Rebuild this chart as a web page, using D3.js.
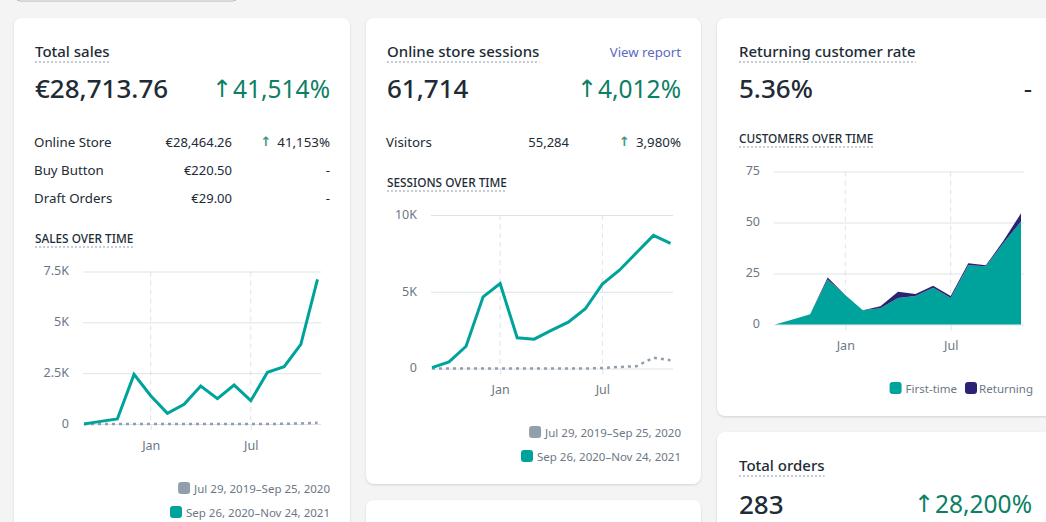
<!DOCTYPE html>
<html>
<head>
<meta charset="utf-8">
<script src="https://cdn.jsdelivr.net/npm/d3@7"></script>
<style>
  html, body { margin: 0; padding: 0; background: #f4f4f5; overflow: hidden; }
  svg { display: block; font-family: "Noto Sans", sans-serif; }
  .card { fill: #fff; filter: drop-shadow(0 1px 1px rgba(60,60,70,.18)); }
  .axis path.domain { display: none; }
  .axis text { font-size: 12.5px; fill: #6b7785; font-family: "Noto Sans", sans-serif; }
  .grid line { stroke: #dfe3e8; stroke-width: 1; }
  .vgrid line { stroke: #dfe3e8; stroke-width: 1; stroke-dasharray: 5 4; }
  .dots { stroke: #c4cdd5; stroke-width: 2; stroke-dasharray: 2 2; }
</style>
</head>
<body>
<svg id="page" width="1046" height="522"></svg>
<script>
// donnees
const months = ["Sep 2020", "Oct 2020", "Nov 2020", "Dec 2020", "Jan 2021", "Feb 2021", "Mar 2021", "Apr 2021",
  "May 2021", "Jun 2021", "Jul 2021", "Aug 2021", "Sep 2021", "Oct 2021", "Nov 2021"];
const monthTicks = ["Jan 2021", "Jul 2021"];

const salesCurrent = [0, 130, 250, 2440, 1390, 525, 965, 1870, 1245, 1915, 1145, 2540, 2820, 3915, 7110];
const salesPrevious = [0, 0, 0, 0, 0, 0, 0, 0, 0, 0, 0, 0, 10, 25, 60];
const salesTicks = [0, 2500, 5000, 7500];
const salesTickLabels = ["0", "2.5K", "5K", "7.5K"];

const sessionsCurrent = [60, 430, 1450, 4670, 5540, 2000, 1910, 2480, 3020, 3890, 5500, 6400, 7540, 8670, 8150];
const sessionsPrevious = [0, 0, 0, 0, 0, 0, 0, 0, 0, 0, 30, 100, 150, 700, 540];
const sessionsTicks = [0, 5000, 10000];
const sessionsTickLabels = ["0", "5K", "10K"];

const firstTime = [0, 2.5, 5, 22, 14.5, 7, 8, 13, 14, 18, 13, 29, 28.5, 40, 50.5];
const returning = [0, 0, 0, 1, 0, 0, 1, 3, 1, 1, 1, 1, 0.5, 1, 4];
const customerTicks = [0, 25, 50, 75];

const periodLabels = ["Jul 29, 2019–Sep 25, 2020", "Sep 26, 2020–Nov 24, 2021"];
const customerLabels = ["First-time", "Returning"];
const salesRows = [["Online Store", "€28,464.26", "41,153%"], ["Buy Button", "€220.50", "-"], ["Draft Orders", "€29.00", "-"]];

const teal = "#00a39c", navy = "#2c2274", grey = "#919eab", ink = "#212b36", green = "#0c7f64";
const svg = d3.select("#page");

// cartes
svg.append("rect").attr("x", 16).attr("y", -30).attr("width", 221).attr("height", 31).attr("rx", 4)
  .attr("fill", "#fff").attr("stroke", "#b5b5b5");
[[14, 18, 336, 560], [366, 18, 335, 466], [717, 18, 400, 398], [717, 432, 400, 140], [366, 500, 335, 60]].forEach(function(c) {
  svg.append("rect").attr("class", "card").attr("x", c[0]).attr("y", c[1]).attr("width", c[2]).attr("height", c[3]).attr("rx", 8);
});

function label(x, y, txt, size, weight, color, anchor) {
  return svg.append("text").attr("x", x).attr("y", y).text(txt)
    .attr("font-size", size).attr("font-weight", weight || 400)
    .attr("fill", color || ink).attr("text-anchor", anchor || "start");
}

// titre souligne en pointilles
function dotted(x, y, gap, txt, size, weight) {
  const t = label(x, y, txt, size, weight);
  const w = t.node().getComputedTextLength();
  svg.append("line").attr("class", "dots").attr("x1", x).attr("x2", x + w).attr("y1", y + gap).attr("y2", y + gap);
}

function trend(right, y, txt, size) {
  const t = label(right, y, txt, size, 400, size > 20 ? green : ink, "end");
  const w = t.node().getComputedTextLength();
  if (size > 20) {
    label(right - w - 1, y - 1, "↑", 24, 400, green, "end").style("font-family", "DejaVu Sans");
  } else {
    label(right - w - 6, y - 1, "↑", 13, 700, "#3c9a80", "end").style("font-family", "DejaVu Sans");
  }
}

function legendRows(right, rows) {
  rows.forEach(function(r) {
    const t = label(right, r.y, r.text, 11.5, 400, "#6b7785", "end");
    const w = t.node().getComputedTextLength();
    svg.append("rect").attr("x", right - w - 16).attr("y", r.y - 11).attr("width", 12).attr("height", 12).attr("rx", 3).attr("fill", r.color);
  });
}

// axes et grille communs aux trois graphiques
function frame(box, yMax, ticks, tickLabels) {
  const x = d3.scalePoint().domain(months).range([box.left, box.right]);
  const y = d3.scaleLinear().domain([0, yMax]).range([box.bottom, box.top]);

  svg.append("g").attr("class", "vgrid").selectAll("line").data(monthTicks).join("line")
    .attr("x1", d => x(d)).attr("x2", d => x(d)).attr("y1", box.top).attr("y2", box.bottom);

  const left = svg.append("g").attr("class", "axis grid")
    .attr("transform", "translate(" + (box.left - 1) + ",0)")
    .call(d3.axisLeft(y).tickValues(ticks).tickSize(-(box.gridEnd - box.left + 1)).tickPadding(14)
      .tickFormat((d, i) => tickLabels[i]));
  left.selectAll("text").attr("dy", "0.27em");

  const bottom = svg.append("g").attr("class", "axis grid")
    .attr("transform", "translate(0," + box.bottom + ")")
    .call(d3.axisBottom(x).tickValues(monthTicks).tickSize(6).tickPadding(11).tickFormat(d => d.slice(0, 3)));
  return { x, y };
}

function drawLines(s, prev, cur) {
  const line = d3.line().x((d, i) => s.x(months[i])).y(d => s.y(d));
  svg.append("path").datum(prev).attr("d", line).attr("fill", "none").attr("stroke", grey)
    .attr("stroke-width", 2.5).attr("stroke-dasharray", "3 4");
  svg.append("path").datum(cur).attr("d", line).attr("fill", "none").attr("stroke", teal)
    .attr("stroke-width", 3).attr("stroke-linejoin", "miter");
}

// Total sales
dotted(35, 57, 5, "Total sales", 15, 500);
label(35, 98, "€28,713.76", 26, 500);
trend(330, 98, "41,514%", 24.5);
salesRows.forEach(function(r, i) {
  const y = 147 + i * 28;
  label(34, y, r[0], 13.3);
  label(232, y, r[1], 13, 400, ink, "end");
  if (r[2] === "-") label(330, y, "-", 13.3, 400, ink, "end");
  else trend(330, y, r[2], 13.3);
});
dotted(35, 243, 4, "SALES OVER TIME", 11.8, 500);
const salesFrame = frame({ left: 84, right: 317.5, gridEnd: 321, top: 271.5, bottom: 424 }, 7500, salesTicks, salesTickLabels);
drawLines(salesFrame, salesPrevious, salesCurrent);
legendRows(330, [{ y: 493, text: periodLabels[0], color: grey }, { y: 517, text: periodLabels[1], color: teal }]);

// Online store sessions
dotted(387, 57, 5, "Online store sessions", 15, 500);
label(681, 57, "View report", 13.2, 400, "#5c6ac4", "end");
label(387, 98, "61,714", 26, 500);
trend(681, 98, "4,012%", 24.5);
label(386, 147, "Visitors", 13.3);
label(569, 147, "55,284", 13, 400, ink, "end");
trend(681, 147, "3,980%", 13.3);
dotted(387, 187, 4, "SESSIONS OVER TIME", 11.8, 500);
const sessionsFrame = frame({ left: 432, right: 670.5, gridEnd: 673, top: 215, bottom: 368.5 }, 10000, sessionsTicks, sessionsTickLabels);
drawLines(sessionsFrame, sessionsPrevious, sessionsCurrent);
legendRows(681, [{ y: 437, text: periodLabels[0], color: grey }, { y: 461, text: periodLabels[1], color: teal }]);

// Returning customer rate
dotted(739, 57, 5, "Returning customer rate", 15, 500);
label(739, 98, "5.36%", 26, 500);
label(1032, 98, "-", 26, 400, ink, "end");
dotted(739, 143, 4, "CUSTOMERS OVER TIME", 11.8, 500);
const custFrame = frame({ left: 775, right: 1021, gridEnd: 1024, top: 171.5, bottom: 324.5 }, 75, customerTicks, customerTicks);
const stacked = d3.stack().keys([0, 1]).value((d, k) => d[k])(months.map((m, i) => [firstTime[i], returning[i]]));
const area = d3.area().x((d, i) => custFrame.x(months[i])).y0(d => custFrame.y(d[0])).y1(d => custFrame.y(d[1]));
svg.append("g").selectAll("path").data(stacked).join("path").attr("d", area).attr("fill", (d, i) => [teal, navy][i]);
label(1033, 393, customerLabels[1], 11.5, 400, "#6b7785", "end");
legendRows(957, [{ y: 393, text: customerLabels[0], color: teal }]);
svg.append("rect").attr("x", 965).attr("y", 382).attr("width", 12).attr("height", 12).attr("rx", 3).attr("fill", navy);

// Total orders
dotted(739, 471, 5, "Total orders", 15, 500);
label(739, 514, "283", 26, 500);
trend(1032, 513, "28,200%", 24.5);
</script>
</body>
</html>
